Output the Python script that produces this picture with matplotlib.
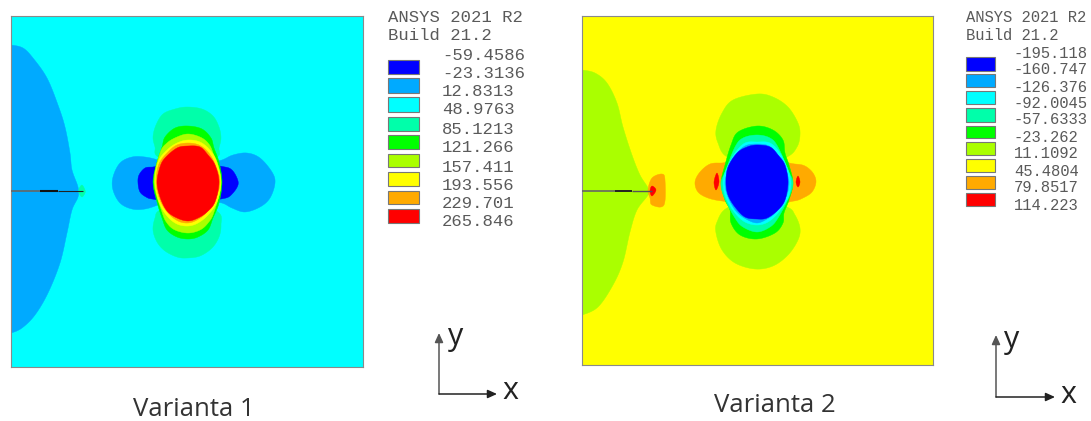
import matplotlib
matplotlib.use("Agg")
import matplotlib.pyplot as plt
import numpy as np
from matplotlib.patches import Rectangle

W, H = 1091, 421
BAND_COLORS = ["#0000ff", "#00aaff", "#00ffff", "#00ffaa", "#00ff00",
               "#aaff00", "#ffff00", "#ffaa00", "#ff0000"]

TITLE_1 = "Varianta 1"
TITLE_2 = "Varianta 2"
HEADER = ["ANSYS 2021 R2", "Build 21.2"]
LEVELS_1 = ["-59.4586", "-23.3136", "12.8313", "48.9763", "85.1213",
            "121.266", "157.411", "193.556", "229.701", "265.846"]
LEVELS_2 = ["-195.118", "-160.747", "-126.376", "-92.0045", "-57.6333",
            "-23.262", "11.1092", "45.4804", "79.8517", "114.223"]

# Contour-band outlines, plate coordinates (band index, outline)
FIELD_1 = [
    (1, [(5,45),(11,45),(23,48),(33,58),(47,78),(58,105),(65,127),(70,153),(72,170),(78,187),(78,197),
         (72,210),(67,233),(60,263),(48,293),(35,315),(22,328),(11,333),(5,333),(0,190)]),
    (3, [(82,185),(85,190),(85,193),(82,197),(79,193),(79,189)]),
    (1, [(170,165),(158,160),(145,157),(132,157),(120,163),(113,177),(113,190),(120,203),(132,209),(145,209),(158,205),(170,200),(178,182)]),
    (1, [(205,165),(222,160),(233,155),(247,153),(260,158),(272,172),(275,183),(270,198),(260,207),(245,212),(232,208),(222,203),(205,200),(198,182)]),
    (0, [(165,166),(153,167),(145,168),(139,175),(138,183),(140,192),(146,197),(152,199),(165,199),(172,183)]),
    (0, [(212,167),(225,167),(232,170),(237,178),(238,185),(233,193),(226,198),(212,198),(205,183)]),
    (3, [(187,107),(202,109),(213,116),(219,127),(221,138),(219,148),(217,157),(187,167),(158,157),(155,147),(153,137),(156,125),(163,114),(175,109)]),
    (3, [(160,210),(155,218),(153,230),(157,242),(165,251),(177,257),(187,258),(200,256),(212,248),(219,237),(221,225),(218,212),(187,200)]),
    (4, [(188,126),(202,129),(211,138),(214,148),(219,162),(222,182),(219,203),(213,218),(208,230),(198,237),
         (188,239),(177,237),(167,230),(162,218),(157,202),(153,182),(157,162),(162,147),(165,137),(175,128)]),
    (5, [(188,134),(200,137),(208,143),(213,153),(221,182),(214,212),(208,223),(200,230),(188,233),(175,230),
         (167,223),(162,212),(154,182),(160,153),(167,143),(177,137)]),
    (6, [(188,140),(200,142),(210,150),(217,162),(221,182),(217,202),(208,215),(198,223),(188,226),(177,224),
         (167,216),(159,202),(155,182),(158,162),(167,150),(177,143)]),
    (7, [(188,143),(199,145),(208,152),(215,164),(220,182),(215,200),(206,213),(197,220),(188,223),(178,221),
         (168,213),(160,200),(156,182),(159,164),(168,152),(177,145)]),
    (8, [(188,146),(200,147),(208,155),(215,165),(219,182),(215,202),(207,212),(198,218),(188,221),(177,218),
         (167,211),(160,197),(157,182),(160,167),(165,158),(177,148)]),
]
FIELD_2 = [
    (5, [(576,70),(582,70),(595,73),(607,83),(617,103),(623,127),(632,155),(640,175),(648,188),(648,195),(637,210),
         (630,232),(623,262),(613,285),(598,307),(582,315),(576,315),(571,190)]),
    (7, [(652,178),(662,174),(665,180),(664,205),(652,205),(650,198),(648,190)]),
    (8, [(652,186),(656,190),(652,196),(650,191)]),
    (5, [(757,94),(773,97),(788,107),(798,123),(800,135),(797,147),(787,157),(757,167),(727,157),(718,143),(716,130),(722,113),(733,100)]),
    (5, [(727,208),(717,222),(716,233),(722,250),(735,263),(755,269),(773,266),(788,255),(798,240),(800,228),(795,215),(787,207),(757,200)]),
    (7, [(735,163),(722,163),(710,164),(700,172),(695,182),(698,192),(708,198),(722,201),(735,201),(742,183)]),
    (7, [(780,164),(795,164),(805,166),(813,173),(816,182),(812,192),(803,198),(794,201),(780,201),(772,183)]),
    (8, [(717,173),(714,182),(716,190),(719,182)]),
    (8, [(798,176),(800,182),(798,187),(796,182)]),
    (4, [(757,126),(773,130),(783,140),(785,153),(789,165),(793,183),(789,200),(784,213),(783,223),(775,233),
         (757,239),(740,235),(731,223),(730,210),(725,200),(721,183),(725,165),(731,145),(738,132)]),
    (3, [(757,135),(770,138),(778,147),(789,172),(793,183),(789,197),(778,218),(770,227),(757,232),(743,227),
         (735,218),(724,197),(721,183),(725,172),(735,147),(743,138)]),
    (2, [(757,142),(770,143),(780,153),(788,170),(791,183),(788,198),(778,213),(768,222),(757,225),(745,222),
         (735,213),(726,198),(723,183),(726,170),(735,153),(745,143)]),
    (1, [(757,144),(769,146),(778,155),(786,171),(789,183),(786,197),(776,212),(767,219),(757,223),(746,219),
         (736,211),(728,197),(725,183),(728,171),(736,155),(745,146)]),
    (0, [(757,145),(770,147),(778,155),(785,165),(788,182),(785,200),(778,210),(767,218),(757,219),(745,217),
         (735,207),(728,195),(726,182),(728,167),(737,153),(747,147)]),
]
# Crack: x start, x end, colour, line width
CRACK_Y_1 = 191
CRACK_1 = [(11, 40, "#666666", 1.2), (40, 58, "#111111", 1.5), (58, 83, "#222222", 0.8)]
CRACK_Y_2 = 191
CRACK_2 = [(582, 615, "#666666", 1.2), (615, 632, "#222222", 1.4), (632, 652, "#555555", 1.0)]

fig = plt.figure(figsize=(W / 100, H / 100), dpi=100, facecolor="white")


def rounded(outline, n=8):
    """Closed Catmull-Rom curve through the read outline points."""
    p = np.asarray(outline, float)
    p0, p1, p2, p3 = np.roll(p, 1, 0), p, np.roll(p, -1, 0), np.roll(p, -2, 0)
    t = np.linspace(0, 1, n, endpoint=False)[None, :, None]
    c = 0.5 * (2 * p1[:, None] + (p2 - p0)[:, None] * t
               + (2 * p0 - 5 * p1 + 4 * p2 - p3)[:, None] * t ** 2
               + (3 * p1 - p0 - 3 * p2 + p3)[:, None] * t ** 3)
    return c.reshape(-1, 2)


def plate(x0, x1, y0, y1, background, field, crack_y, crack):
    ax = fig.add_axes([x0 / W, 1 - y1 / H, (x1 - x0) / W, (y1 - y0) / H])
    ax.set_xlim(x0, x1)
    ax.set_ylim(y1, y0)
    ax.set_facecolor(BAND_COLORS[background])
    ax.set_xticks([])
    ax.set_yticks([])
    for s in ax.spines.values():
        s.set_color("#8a8a8a")
        s.set_linewidth(0.8)
    for band, outline in field:
        c = rounded(outline)
        ax.fill(c[:, 0], c[:, 1], color=BAND_COLORS[band], lw=0.3, zorder=2)
    for a, b, col, lw in crack:
        ax.plot([a, b], [crack_y, crack_y], color=col, lw=lw, zorder=3, solid_capstyle="butt")
    return ax


plate(11, 363, 16, 367, 2, FIELD_1, CRACK_Y_1, CRACK_1)
plate(582, 933, 16, 365, 6, FIELD_2, CRACK_Y_2, CRACK_2)

ov = fig.add_axes([0, 0, 1, 1], facecolor="none")
ov.set_xlim(0, W)
ov.set_ylim(H, 0)
ov.axis("off")

MONO = "Liberation Mono"
TXT = "#5a5a5a"


def key(header_x, value_x, size, ys_head, ys_val, labels, sw_x, sw_w, sw_rows):
    for t, y in zip(HEADER, ys_head):
        ov.text(header_x, y, t, family=MONO, fontsize=size, color=TXT, va="center", ha="left")
    for t, y in zip(labels, ys_val):
        ov.text(value_x, y, t, family=MONO, fontsize=size, color=TXT, va="center", ha="left")
    for c, (a, b) in zip(BAND_COLORS, sw_rows):
        ov.add_patch(Rectangle((sw_x, a), sw_w, b - a, facecolor=c, edgecolor="#777777", lw=0.8))


key(388, 442, 12.4, [18, 36], [55, 73, 92, 110, 129, 148, 167, 185, 204, 222], LEVELS_1, 388, 31,
    [(60, 74), (78, 93), (97, 112), (117, 131), (135, 149), (154, 167), (172, 186), (191, 204), (209, 223)])
key(966, 1014, 11.2, [18, 36], [53, 70, 87, 103, 120, 138, 154, 171, 188, 205], LEVELS_2, 966, 29,
    [(57, 71), (74, 87), (91, 104), (108, 122), (126, 138), (142, 155), (159, 172), (176, 189), (193, 206)])


def axes_glyph(ox, oy, top, right, ylab, xlab):
    style = dict(arrowstyle="-|>,head_width=0.25,head_length=0.55", lw=1.1, shrinkA=0, shrinkB=0)
    ov.annotate("", xy=(ox, top), xytext=(ox, oy), arrowprops=dict(color="#555555", **style))
    ov.annotate("", xy=(right, oy), xytext=(ox, oy), arrowprops=dict(color="#222222", **style))
    ov.text(*ylab, "y", family="Open Sans", fontsize=22, color="#222222", ha="center", va="center")
    ov.text(*xlab, "x", family="Open Sans", fontsize=22, color="#222222", ha="center", va="center")


axes_glyph(439, 394, 333, 497, (456, 337), (510, 391))
axes_glyph(996, 397, 335, 1055, (1012, 340), (1068, 395))

ov.text(193.5, 410, TITLE_1, family="Open Sans", fontsize=18.5, color="#333333", ha="center", va="center")
ov.text(774.5, 406, TITLE_2, family="Open Sans", fontsize=18.5, color="#333333", ha="center", va="center")

fig.savefig("out.png", dpi=100)
